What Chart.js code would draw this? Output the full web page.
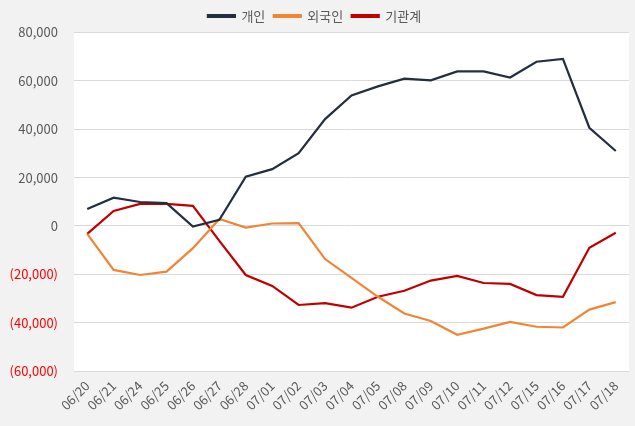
<!DOCTYPE html>
<html>
<head>
<meta charset="utf-8">
<script src="https://cdn.jsdelivr.net/npm/chart.js@4"></script>
<style>
  html, body { margin: 0; padding: 0; background: #f2f2f2; }
  #wrap { width: 635px; height: 426px; }
</style>
</head>
<body>
<div id="wrap"><canvas id="lineChart"></canvas></div>
<script>
// 일자별 순매수 추이
const dates = ['06/20', '06/21', '06/24', '06/25', '06/26', '06/27', '06/28', '07/01', '07/02', '07/03',
    '07/04', '07/05', '07/08', '07/09', '07/10', '07/11', '07/12', '07/15', '07/16', '07/17', '07/18'];
const individual = [7000, 11700, 9900, 9400, -300, 2500, 20400, 23500, 30100, 44200,
    54000, 57700, 60900, 60200, 63900, 63900, 61400, 67900, 69100, 40600, 31000];
const foreign = [-3300, -18200, -20300, -18900, -9200, 2900, -700, 1000, 1200, -13700,
    -21500, -29300, -36200, -39300, -45000, -42500, -39700, -41700, -42000, -34600, -31500];
const institution = [-3300, 6200, 9100, 9100, 8300, -6200, -20300, -24800, -32700, -31900,
    -33800, -29300, -26800, -22600, -20700, -23600, -24000, -28600, -29300, -9000, -2800];
const yTicks = { min: -60000, max: 80000, step: 20000 };
</script>
<script>
// 차트 영역만 흰색으로 칠하기
const plotBg = {
    id: 'plotBg',
    beforeDraw(chart) {
        const { ctx, chartArea: a } = chart;
        ctx.save();
        ctx.fillStyle = '#ffffff';
        ctx.fillRect(a.left, a.top, a.right - a.left, a.bottom - a.top);
        ctx.restore();
    }
};

const fmt = v => {
    const s = Math.abs(v).toLocaleString('en-US');
    return v < 0 ? '(' + s + ')' : s;
};

const font = { family: "'Noto Sans CJK KR', 'Noto Sans', sans-serif", size: 13 };

document.addEventListener('DOMContentLoaded', () => {
    const ctx = document.getElementById('lineChart').getContext('2d');
    new Chart(ctx, {
        type: 'line',
        data: {
            labels: dates,
            datasets: [
                { label: '개인', data: individual, borderColor: '#232f3e', backgroundColor: '#232f3e' },
                { label: '외국인', data: foreign, borderColor: '#f08536', backgroundColor: '#f08536' },
                { label: '기관계', data: institution, borderColor: '#c00000', backgroundColor: '#c00000' },
            ]
        },
        options: {
            responsive: true,
            maintainAspectRatio: false,
            animation: false,
            elements: {
                line: { borderWidth: 2.2, tension: 0 },
                point: { radius: 0, hoverRadius: 0 }
            },
            layout: { padding: { top: 1, right: 6, bottom: 0, left: 0 } },
            plugins: {
                tooltip: { enabled: false },
                legend: {
                    position: 'top',
                    labels: {
                        font: font,
                        color: '#595959',
                        boxWidth: 27,
                        boxHeight: 2,
                        padding: 8.5
                    }
                }
            },
            scales: {
                x: {
                    offset: true,
                    grid: { display: false, drawTicks: false },
                    border: { display: false },
                    ticks: {
                        font: font,
                        color: '#595959',
                        maxRotation: 45,
                        minRotation: 45,
                        autoSkip: false,
                        padding: 7
                    },
                    afterFit: s => { s.height = 55; }
                },
                y: {
                    min: yTicks.min,
                    max: yTicks.max,
                    grid: { color: '#d9d9d9', lineWidth: 1, drawTicks: false },
                    border: { display: false },
                    ticks: {
                        stepSize: yTicks.step,
                        font: font,
                        padding: 16,
                        color: c => (c.tick && c.tick.value < 0) ? '#ff0000' : '#595959',
                        callback: v => fmt(v)
                    },
                    afterFit: s => { s.width = 74; }
                }
            }
        },
        plugins: [plotBg]
    });
});
</script>
</body>
</html>
